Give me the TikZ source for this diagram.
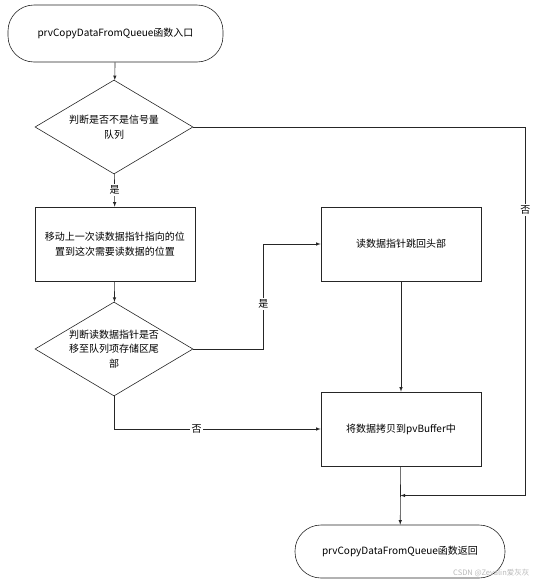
\documentclass[tikz,border=0pt]{standalone}
\usepackage{fontspec}
\newfontfamily\cjk{Noto Sans CJK SC}
\usetikzlibrary{shapes.geometric,calc}

\begin{document}
\begin{tikzpicture}[x=1pt,y=-1pt,line width=0.6pt,font=\cjk\fontsize{10}{14.5}\selectfont]
    \tikzstyle{flow}=[draw=black!85,-latex]
    \tikzstyle{term}=[draw=black!85,rounded corners=26pt,align=center]
    \tikzstyle{box}=[draw=black!85,minimum width=160,minimum height=74,align=center]
    \tikzstyle{decision}=[draw=black!85,diamond,aspect=1.66,inner sep=0,minimum width=158,minimum height=94]
    \tikzstyle{lbl}=[fill=white,inner sep=1.5pt]

    \useasboundingbox (0,0) rectangle (536,584);

    % left column
    \node[term,minimum width=215,minimum height=57] (start) at (115.5,33.5) {prvCopyDataFromQueue函数入口};
    \node[decision,label={[align=center]center:{判断是否不是信号量\\队列}}] (isq) at (114,127) {};
    \node[box] (move) at (115,244) {移动上一次读数据指针指向的位\\置到这次需要读数据的位置};
    \node[decision,label={[align=center]center:{判断读数据指针是否\\移至队列项存储区尾\\部}}] (atend) at (114,349) {};

    % right column
    \node[box] (wrap) at (401,244) {读数据指针跳回头部};
    \node[box] (copy) at (401,429) {将数据拷贝到pvBuffer中};
    \node[term,minimum width=210,minimum height=53] (stop) at (400,551.5) {prvCopyDataFromQueue函数返回};
    \coordinate (merge) at ($(copy.south)!0.5!(stop.north)$);
    \coordinate (bend) at ($(atend.east)+(70,0)$);
    \coordinate (far) at ($(isq.east)+(332,0)$);

    \node[text=gray!55,anchor=east,font=\cjk\fontsize{7.5}{8}\selectfont] (mark) at (533,573) {CSDN @Zevalin爱灰灰};

    % connectors
    \draw[flow] (start) -- (isq);
    \draw[flow] (isq) -- node[lbl] {是} (move);
    \draw[flow] (move) -- (atend);
    \draw[flow] (atend.east) -- (bend) |- (wrap.west);
    \node[lbl] (yes2) at ($(bend)+(0,-45)$) {是};
    \draw[flow] (atend.south) |- node[lbl,pos=0.7] {否} (copy.west);
    \draw[flow] (wrap) -- (copy);
    \draw[flow] (copy) -- (stop);
    \draw[flow] (isq.east) -- (far) |- (merge);
    \node[lbl] (no1) at ($(far)+(0,83)$) {否};

\end{tikzpicture}
\end{document}
